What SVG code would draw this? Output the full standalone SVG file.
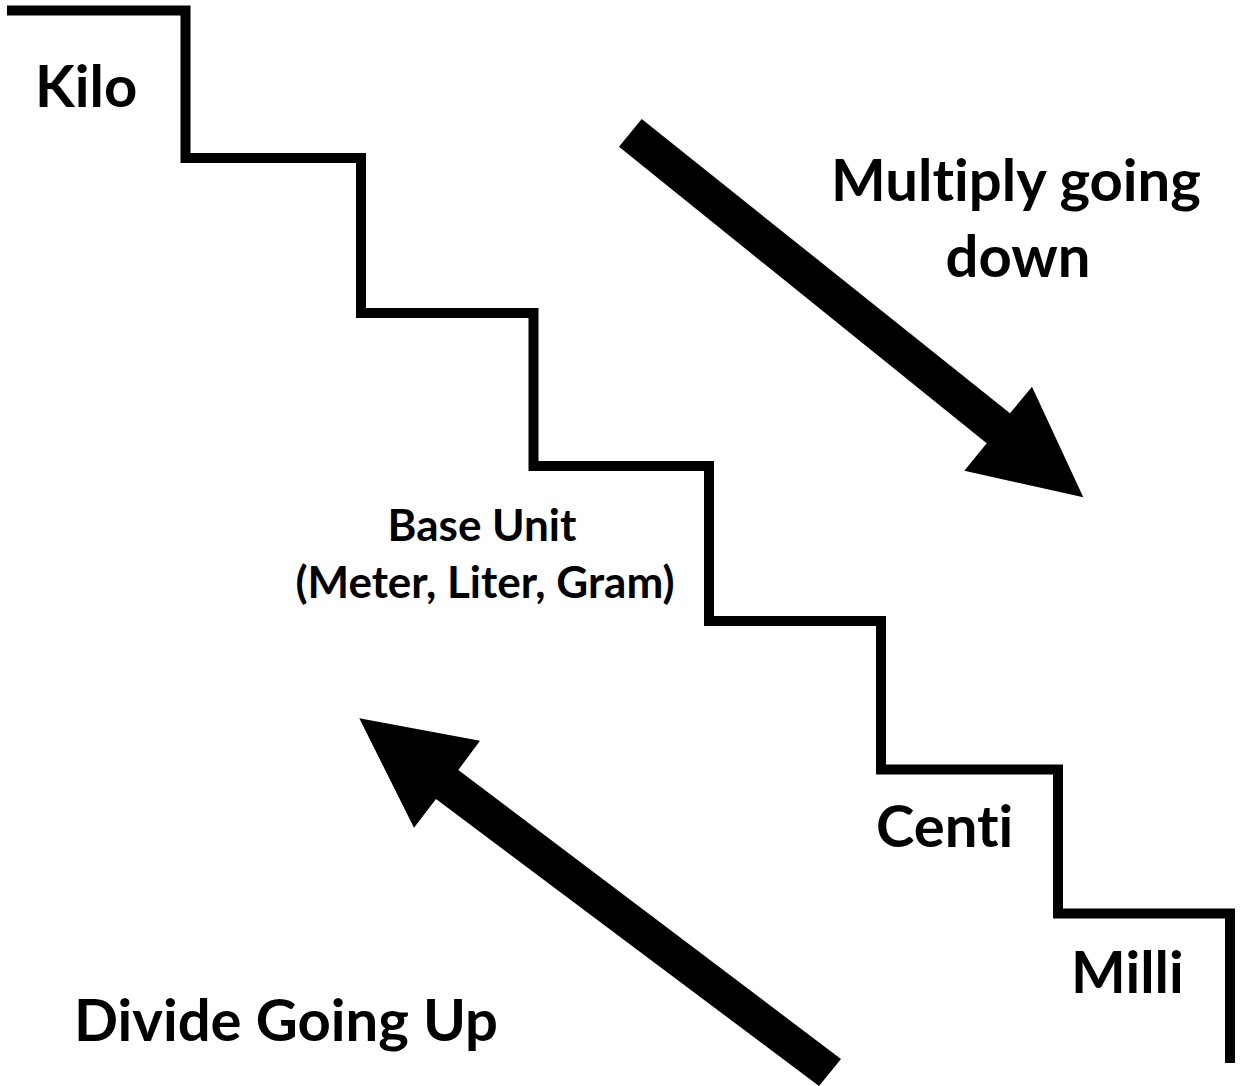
<svg xmlns="http://www.w3.org/2000/svg" width="1240" height="1086" viewBox="0 0 1240 1086">
<style>
.t{font-family:Lato,"Liberation Sans",sans-serif;font-weight:bold;fill:#000;font-variant-ligatures:none;font-feature-settings:"liga" 0}
.big{font-size:58px}
.mid{font-size:44px}
.stair{fill:none;stroke:#000;stroke-width:10;stroke-linejoin:miter;stroke-linecap:butt}
</style>
<rect width="1240" height="1086" fill="#fff"/>
<g id="stairs">
<path class="stair" d="M7,10.5 H185.5 V158 H361 V313 H533.5 V466 H709 V621 H881 V769.5 H1058 V913.5 H1230 V1063"/>
</g>
<g id="connectors">
<polygon id="arrow-down" points="641.7,119 1010,413.3 1032,386.7 1083.3,497.3 964.3,470.7 986.7,443.3 619,146.7"/>
<polygon id="arrow-up" points="841,1059 458.3,770 480,740.7 359.3,718.3 414,827.7 436,799 819,1086"/>
</g>
<g id="kilo"><text class="t big" x="35" y="107">Kilo</text></g>
<g id="multiply"><text class="t big" text-anchor="middle" x="1016" y="201">Multiply going</text><text class="t big" text-anchor="middle" x="1018" y="277">down</text></g>
<g id="base"><text class="t mid" text-anchor="middle" x="482" y="541">Base Unit</text><text class="t mid" text-anchor="middle" x="485" y="598">(Meter, Liter, Gram)</text></g>
<g id="centi"><text class="t big" x="876" y="847">Centi</text></g>
<g id="milli"><text class="t big" x="1071" y="993">Milli</text></g>
<g id="divide"><text class="t big" x="74" y="1041">Divide Going Up</text></g>
</svg>
